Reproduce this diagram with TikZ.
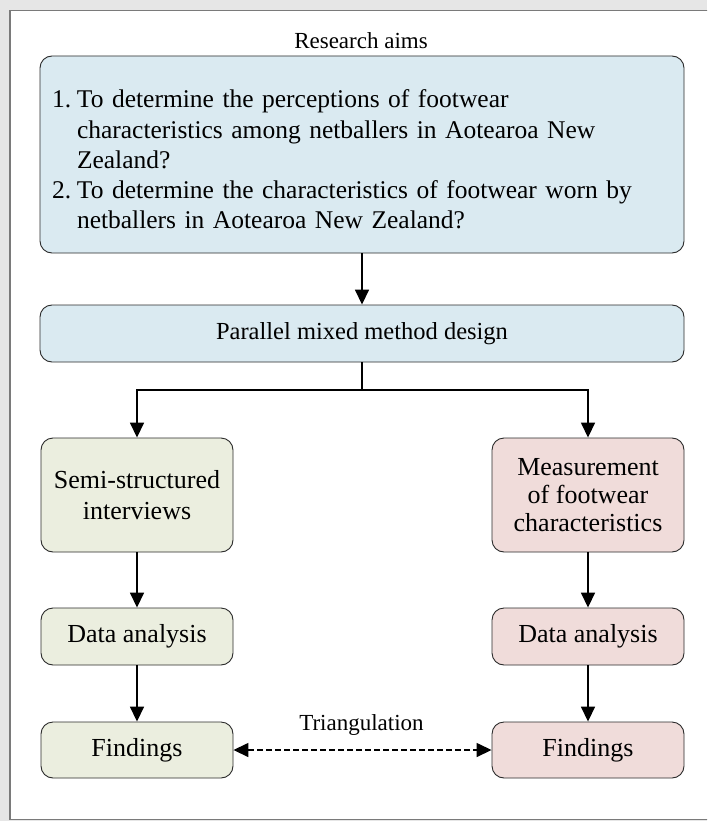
\documentclass[tikz,border=0pt]{standalone}
\usepackage{fontspec}
\setmainfont{Liberation Serif}
\usetikzlibrary{arrows.meta}
\definecolor{bgray}{HTML}{E6E6E6}
\definecolor{framegray}{HTML}{7A7A7A}
\definecolor{aimblue}{HTML}{DAEAF1}
\definecolor{qualgreen}{HTML}{EBEEDF}
\definecolor{quantpink}{HTML}{F0DCDA}
\definecolor{edgegray}{HTML}{2B2B2B}
\newcommand{\itemlbl}[1]{\makebox[25pt][l]{#1}}
\begin{document}
\begin{tikzpicture}[x=1pt,y=-1pt,
  box/.style={draw=edgegray, line width=0.9pt, rounded corners=12pt, align=center, inner sep=0pt, font=\fontsize{26}{30}\selectfont},
  smallbox/.style={box, minimum width=192pt},
  flow/.style={line width=1.6pt, -{Triangle[length=15pt,width=14pt]}},
  stem/.style={line width=1.6pt},
  tri/.style={line width=1.5pt, dash pattern=on 6pt off 3pt, {Triangle[length=15pt,width=14pt]}-{Triangle[length=15pt,width=14pt]}},
  lbl/.style={font=\fontsize{23}{27}\selectfont}]
\clip (0,0) rectangle (707,821);
\fill[bgray] (0,0) rectangle (707,821);
\draw[framegray, line width=1.8pt, fill=white] (10,10.5) rectangle (800,819.5);

\node[lbl, anchor=base] (aimslabel) at (361,49) {Research aims};
\node[box, fill=aimblue, minimum width=644pt, minimum height=197pt, text width=620pt, inner xsep=12pt, align=left, font=\fontsize{25.5}{30}\selectfont] (aims) at (362,154.5)
  {\raisebox{-7.5pt}[\height][\depth]{\begin{tabular}{@{}l@{}l@{}}
   \itemlbl{1.} & To determine the perceptions of footwear\\
       & characteristics among netballers in Aotearoa New\\
       & Zealand?\\
   \itemlbl{2.} & To determine the characteristics of footwear worn by\\
       & netballers in Aotearoa New Zealand?
  \end{tabular}}};

\node[box, fill=aimblue, minimum width=644pt, minimum height=57pt, font=\fontsize{24.5}{29}\selectfont] (design) at (362,333.5) {Parallel mixed method design};

\node[smallbox, fill=qualgreen, minimum height=114pt, font=\fontsize{26}{31}\selectfont] (semi) at (137,495) {Semi-structured\\interviews};
\node[smallbox, fill=quantpink, minimum height=114pt, font=\fontsize{26}{28}\selectfont] (meas) at (588,495) {Measurement\\of footwear\\characteristics};

\node[smallbox, fill=qualgreen, minimum height=57pt] (dal) at (137,636.5) {Data analysis};
\node[smallbox, fill=quantpink, minimum height=57pt] (dar) at (588,636.5) {Data analysis};

\node[smallbox, fill=qualgreen, minimum height=56pt] (fil) at (137,750) {Findings};
\node[smallbox, fill=quantpink, minimum height=56pt] (fir) at (588,750) {Findings};

\coordinate (split) at (362,390);
\draw[flow] (aims.south) -- (design.north);
\draw[stem] (design.south) -- (split);
\draw[flow] (split) -| (semi.north);
\draw[flow] (split) -| (meas.north);
\draw[flow] (semi.south) -- (dal.north);
\draw[flow] (meas.south) -- (dar.north);
\draw[flow] (dal.south) -- (fil.north);
\draw[flow] (dar.south) -- (fir.north);

\draw[tri] (fil.east) -- (fir.west);
\node[lbl, anchor=base] (trilabel) at (361.5,730) {Triangulation};
\end{tikzpicture}
\end{document}
